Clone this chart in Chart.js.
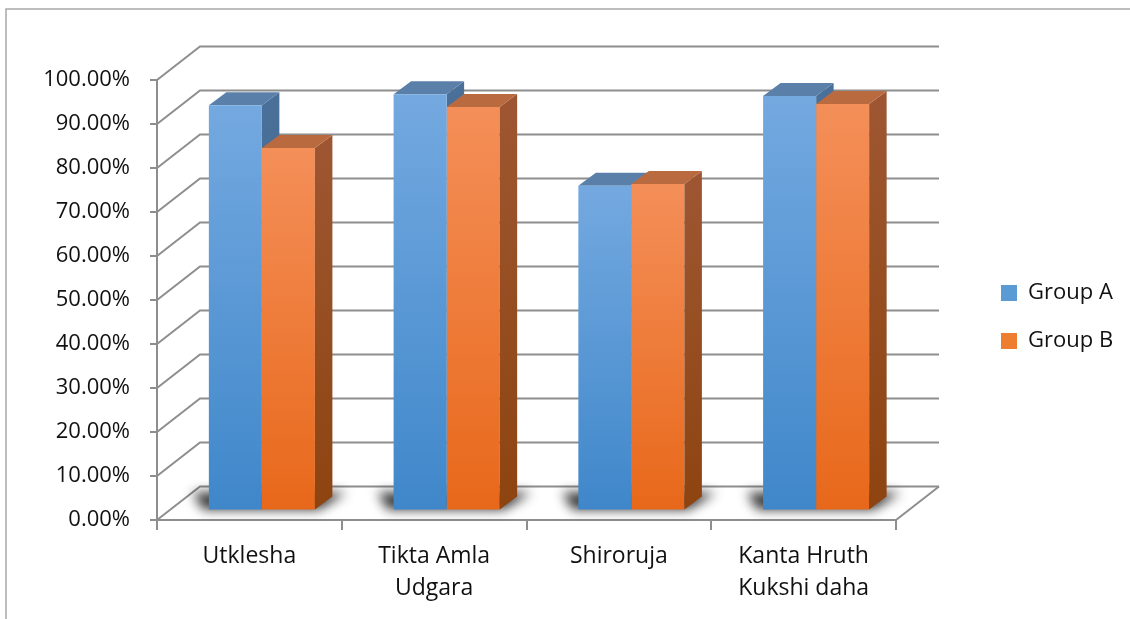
<!DOCTYPE html>
<html>
<head>
<meta charset="utf-8">
<script src="https://cdn.jsdelivr.net/npm/chart.js@4.4.1/dist/chart.umd.min.js"></script>
<style>
  html, body { margin: 0; padding: 0; background: #fff; }
  canvas { display: block; }
</style>
</head>
<body>
<canvas id="chart" width="1130" height="619"></canvas>
<script>
// data (percent)
const categories = ['Utklesha', ['Tikta Amla', 'Udgara'], 'Shiroruja', ['Kanta Hruth', 'Kukshi daha']];
const seriesNames = ['Group A', 'Group B'];
const groupA = [92.1, 94.6, 73.8, 94.2];
const groupB = [82.4, 91.7, 74.2, 92.4];
const yTickValues = [0, 10, 20, 30, 40, 50, 60, 70, 80, 90, 100];

// look of the fake 3d
const GRID = '#8e8e8e';
const TEXT = '#111111';
const WALL = { dx: 43, dy: -33.5 };      // depth of the walls / floor
const BAR_OFF = { dx: 12.5, dy: -9.5 };  // bars sit a bit behind the front edge
const BAR_DEPTH = { dx: 17.5, dy: -13 };
const faces = [
  { front: ['#74a9e0', '#3f87ca'], side: ['#4a7099', '#3a6593'], top: '#5a80aa', legend: '#5b9bd5' },
  { front: ['#f48f59', '#e8681a'], side: ['#9d5631', '#8e4410'], top: '#b96a3f', legend: '#ed7d31' }
];

Chart.defaults.font.family = "'Open Sans', sans-serif";
Chart.defaults.color = TEXT;

function frontFill(ctx, i) {
  const chart = ctx.chart;
  const ys = chart.scales.y;
  const stops = faces[i].front;
  if (!ys || !ctx.parsed) return stops[1];
  const top = ys.getPixelForValue(ctx.parsed.y);
  const bottom = ys.getPixelForValue(0);
  if (!isFinite(top) || !isFinite(bottom) || top === bottom) return stops[1];
  const g = chart.ctx.createLinearGradient(0, top, 0, bottom);
  g.addColorStop(0, stops[0]);
  g.addColorStop(1, stops[1]);
  return g;
}

function drawBarFaces(c, meta, f) {
  meta.data.forEach(el => {
    const x0 = el.x - el.width / 2, x1 = el.x + el.width / 2;
    const yT = el.y, yB = el.base;
    const g = c.createLinearGradient(0, yT, 0, yB);
    g.addColorStop(0, f.side[0]);
    g.addColorStop(1, f.side[1]);
    c.fillStyle = g;
    c.beginPath();
    c.moveTo(x1, yT);
    c.lineTo(x1 + BAR_DEPTH.dx, yT + BAR_DEPTH.dy);
    c.lineTo(x1 + BAR_DEPTH.dx, yB + BAR_DEPTH.dy);
    c.lineTo(x1, yB);
    c.closePath();
    c.fill();
    c.fillStyle = f.top;
    c.beginPath();
    c.moveTo(x0, yT);
    c.lineTo(x1, yT);
    c.lineTo(x1 + BAR_DEPTH.dx, yT + BAR_DEPTH.dy);
    c.lineTo(x0 + BAR_DEPTH.dx, yT + BAR_DEPTH.dy);
    c.closePath();
    c.fill();
  });
}

const depthPlugin = {
  id: 'depth',
  beforeDraw(chart) {
    const c = chart.ctx;
    c.save();
    c.strokeStyle = '#a8a8a8';
    c.lineWidth = 1.5;
    c.beginPath();
    c.moveTo(6, chart.height);
    c.lineTo(6, 9);
    c.lineTo(chart.width, 9);
    c.stroke();
    c.restore();
  },
  beforeDatasetsDraw(chart) {
    const c = chart.ctx, a = chart.chartArea, ys = chart.scales.y;
    c.save();
    c.strokeStyle = GRID;
    c.lineWidth = 2;
    ys.ticks.forEach(t => {
      const py = ys.getPixelForValue(t.value);
      c.beginPath();
      c.moveTo(a.left, py);
      c.lineTo(a.left + WALL.dx, py + WALL.dy);
      c.lineTo(a.right + WALL.dx, py + WALL.dy);
      c.stroke();
    });
    c.beginPath();
    c.moveTo(a.right, a.bottom);
    c.lineTo(a.right + WALL.dx, a.bottom + WALL.dy);
    c.stroke();
    c.restore();

    // bars are drawn shifted back into the box; restored in afterDatasetsDraw
    c.save();
    c.translate(BAR_OFF.dx, BAR_OFF.dy);

    const mA = chart.getDatasetMeta(0), mB = chart.getDatasetMeta(1);
    c.save();
    c.filter = 'blur(6px)';
    c.fillStyle = 'rgba(0,0,0,0.8)';
    mA.data.forEach((bA, i) => {
      const bB = mB.data[i];
      const x0 = bA.x - bA.width / 2, x1 = bB.x + bB.width / 2, b = bA.base;
      c.beginPath();
      c.moveTo(x0 - 6, b);
      c.lineTo(x1 + 4, b);
      c.lineTo(x1 + BAR_DEPTH.dx + 14, b + BAR_DEPTH.dy - 4);
      c.lineTo(x0 - 16, b + BAR_DEPTH.dy - 4);
      c.closePath();
      c.fill();
    });
    c.restore();

    // first series' hidden faces go under everything else
    drawBarFaces(c, mA, faces[0]);
  },
  afterDatasetDraw(chart, args) {
    if (args.index !== 0) drawBarFaces(chart.ctx, args.meta, faces[args.index]);
  },
  afterDatasetsDraw(chart) {
    chart.ctx.restore();
  }
};

new Chart(document.getElementById('chart'), {
  type: 'bar',
  data: {
    labels: categories,
    datasets: [
      { label: seriesNames[0], data: groupA, backgroundColor: ctx => frontFill(ctx, 0), borderWidth: 0, clip: false },
      { label: seriesNames[1], data: groupB, backgroundColor: ctx => frontFill(ctx, 1), borderWidth: 0, clip: false }
    ]
  },
  options: {
    responsive: false,
    animation: false,
    categoryPercentage: 0.574,
    barPercentage: 1,
    layout: { padding: { top: 80, right: 15, bottom: 0, left: 0 } },
    plugins: {
      tooltip: { enabled: false },
      legend: {
        position: 'right',
        fullSize: false,
        maxWidth: 140,
        title: { display: true, text: ' ', padding: 0, font: { size: 10, lineHeight: 3.4 } },
        labels: {
          boxWidth: 16,
          boxHeight: 16,
          padding: 26,
          color: TEXT,
          font: { size: 22 },
          generateLabels: chart => Chart.defaults.plugins.legend.labels.generateLabels(chart)
            .map((item, i) => Object.assign(item, { fillStyle: faces[i].legend, strokeStyle: faces[i].legend, lineWidth: 0 }))
        }
      }
    },
    scales: {
      x: {
        grid: { drawOnChartArea: false, drawTicks: true, tickLength: 10, color: GRID, lineWidth: 2 },
        border: { display: true, color: GRID, width: 2 },
        ticks: { padding: 10, color: TEXT, maxRotation: 0, autoSkip: false, font: { size: 23, lineHeight: 32 / 23 } },
        afterFit: s => { s.height = 99; }
      },
      y: {
        min: 0,
        max: 100,
        afterBuildTicks: s => { s.ticks = yTickValues.map(v => ({ value: v })); },
        grid: { drawOnChartArea: false, drawTicks: true, tickLength: 7, color: GRID, lineWidth: 2 },
        border: { display: true, color: GRID, width: 2 },
        ticks: { padding: 20, color: TEXT, font: { size: 22 }, callback: v => v.toFixed(2) + '%' },
        afterFit: s => { s.width = 157; }
      },
      spacer: {
        position: 'right',
        display: true,
        grid: { display: false, drawTicks: false },
        border: { display: false },
        ticks: { display: false },
        afterFit: s => { s.width = 79; }
      }
    }
  },
  plugins: [depthPlugin]
});
</script>
</body>
</html>
